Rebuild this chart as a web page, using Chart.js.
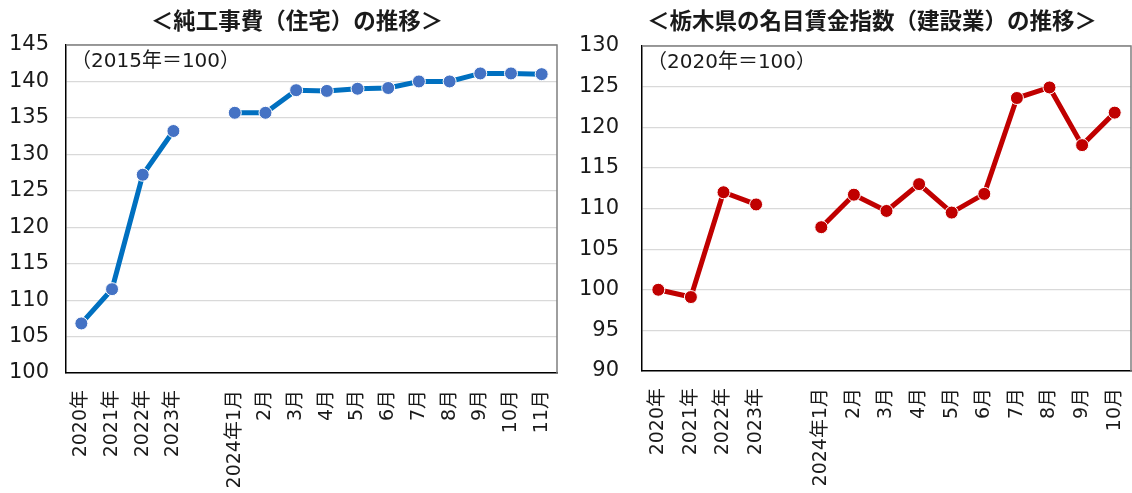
<!DOCTYPE html>
<html lang="ja">
<head>
<meta charset="utf-8">
<script src="https://cdn.jsdelivr.net/npm/chart.js@4/dist/chart.umd.min.js"></script>
<style>
  html, body { margin: 0; padding: 0; background: #fff; overflow: hidden; }
  #wrap { position: relative; width: 1132px; height: 493px; }
  canvas { position: absolute; top: 0; }
  #leftChart { left: 0; }
  #rightChart { left: 566px; }
</style>
</head>
<body>
<div id="wrap">
  <canvas id="leftChart" width="566" height="493"></canvas>
  <canvas id="rightChart" width="566" height="493"></canvas>
</div>
<script>
// left chart: 純工事費（住宅）
const leftTitle = '＜純工事費（住宅）の推移＞';
const leftNote = '（2015年＝100）';
const leftLabels = ['2020年', '2021年', '2022年', '2023年', '', '2024年1月', '2月', '3月', '4月', '5月', '6月', '7月', '8月', '9月', '10月', '11月'];
const leftValues = [106.8, 111.5, 127.2, 133.2, null, 135.7, 135.7, 138.8, 138.7, 139.0, 139.1, 140.0, 140.0, 141.1, 141.1, 141.0];

// right chart: 栃木県の名目賃金指数（建設業）
const rightTitle = '＜栃木県の名目賃金指数（建設業）の推移＞';
const rightNote = '（2020年＝100）';
const rightLabels = ['2020年', '2021年', '2022年', '2023年', '', '2024年1月', '2月', '3月', '4月', '5月', '6月', '7月', '8月', '9月', '10月'];
const rightValues = [100.0, 99.1, 112.0, 110.5, null, 107.7, 111.7, 109.7, 113.0, 109.5, 111.8, 123.6, 124.9, 117.8, 121.8];

const FONT = '"DejaVu Sans", "Noto Sans CJK JP", sans-serif';
const TEXT = '#1a1a1a';

// title above the plot, note in the top-left corner, gray top/right border
const boxPlugin = {
  id: 'boxNote',
  beforeDatasetsDraw(chart, args, opts) {
    const { ctx, chartArea: a } = chart;
    ctx.save();
    ctx.strokeStyle = '#7f7f7f';
    ctx.lineWidth = 1.5;
    ctx.beginPath();
    ctx.moveTo(a.left, a.top);
    ctx.lineTo(a.right, a.top);
    ctx.lineTo(a.right, a.bottom);
    ctx.stroke();

    ctx.fillStyle = TEXT;
    ctx.textBaseline = 'middle';
    ctx.textAlign = 'left';
    ctx.font = '20px ' + FONT;
    ctx.fillText(opts.note, a.left + 5, a.top + 17);

    ctx.textAlign = 'center';
    ctx.font = 'bold 22.5px ' + FONT;
    ctx.fillText(opts.title, opts.titleX, 23);
    ctx.restore();
  }
};

function makeChart(id, o) {
  return new Chart(document.getElementById(id), {
    type: 'line',
    data: {
      labels: o.labels,
      datasets: [{
        data: o.values,
        borderColor: o.lineColor,
        borderWidth: 5,
        pointBackgroundColor: o.pointColor,
        pointBorderColor: '#ffffff',
        pointBorderWidth: 1,
        pointRadius: 6.5,
        spanGaps: false,
        tension: 0
      }]
    },
    options: {
      responsive: false,
      animation: false,
      devicePixelRatio: 1,
      layout: { padding: o.padding, autoPadding: false },
      plugins: {
        legend: { display: false },
        tooltip: { enabled: false },
        title: { display: false },
        boxNote: { note: o.note, title: o.title, titleX: o.titleX }
      },
      scales: {
        x: {
          offset: true,
          grid: { display: false, drawTicks: false },
          border: { color: '#000', width: 1.5 },
          ticks: {
            color: TEXT,
            font: { family: FONT, size: 19 },
            minRotation: 90,
            maxRotation: 90,
            autoSkip: false,
            padding: 17
          },
          afterFit(s) {
            s.height = o.xHeight;
            s.paddingLeft = 0;
            s.paddingRight = 0;
          }
        },
        y: {
          min: o.min,
          max: o.max,
          grid: { color: '#d9d9d9', lineWidth: 1.2, drawTicks: false },
          border: { color: '#000', width: 1.5 },
          ticks: {
            stepSize: 5,
            color: TEXT,
            font: { family: FONT, size: 21 },
            padding: o.tickPad
          },
          afterFit(s) { s.width = o.yWidth; }
        }
      }
    },
    plugins: [boxPlugin]
  });
}

makeChart('leftChart', {
  title: leftTitle, note: leftNote, labels: leftLabels, values: leftValues,
  lineColor: '#0070c0', pointColor: '#4472c4',
  min: 100, max: 145, titleX: 297,
  padding: { left: 0, right: 9, top: 45, bottom: 0 },
  yWidth: 66, xHeight: 120, tickPad: 17
});

makeChart('rightChart', {
  title: rightTitle, note: rightNote, labels: rightLabels, values: rightValues,
  lineColor: '#c00000', pointColor: '#c00000',
  min: 90, max: 130, titleX: 306,
  padding: { left: 0, right: 1, top: 46, bottom: 0 },
  yWidth: 76, xHeight: 122, tickPad: 23
});
</script>
</body>
</html>
